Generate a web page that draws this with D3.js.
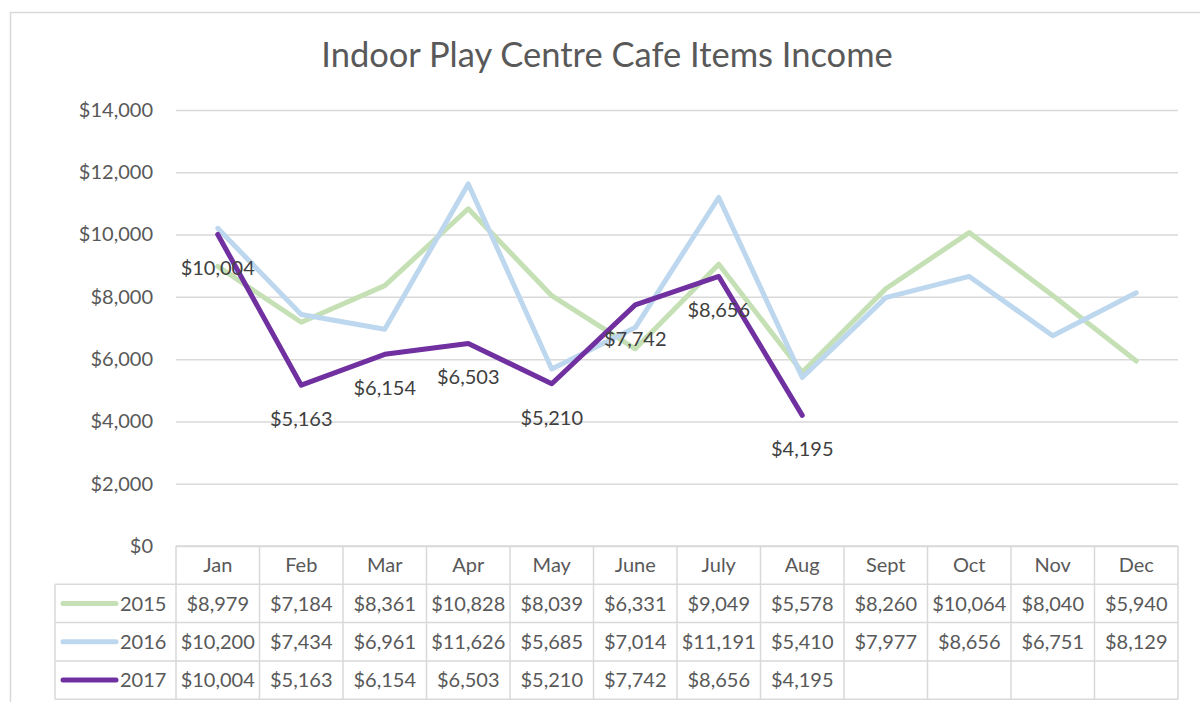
<!DOCTYPE html>
<html>
<head>
<meta charset="utf-8">
<script src="https://cdn.jsdelivr.net/npm/d3@7"></script>
<style>
  body { margin: 0; background: #fff; }
  text { font-family: "Lato", "Open Sans", sans-serif; fill: #595959; }
</style>
</head>
<body>
<div id="vis"></div>
<script>
const months = ["Jan", "Feb", "Mar", "Apr", "May", "June", "July", "Aug", "Sept", "Oct", "Nov", "Dec"];
const years = ["2015", "2016", "2017"];
const values2015 = [8979, 7184, 8361, 10828, 8039, 6331, 9049, 5578, 8260, 10064, 8040, 5940];
const values2016 = [10200, 7434, 6961, 11626, 5685, 7014, 11191, 5410, 7977, 8656, 6751, 8129];
const values2017 = [10004, 5163, 6154, 6503, 5210, 7742, 8656, 4195];
const yTicks = [0, 2000, 4000, 6000, 8000, 10000, 12000, 14000];

const seriesColors = ["#c5e0b4", "#bdd7ee", "#7030a0"];

const series = years.map((y, i) => ({
    year: y,
    color: seriesColors[i],
    values: [values2015, values2016, values2017][i]
}));

const W = 1200, H = 702;
const plot = { left: 176, right: 1178, top: 110, bottom: 546 };
const rowH = 38.3;
const money = d3.format("$,");
const fs = "20px";

const svg = d3.select("#vis")
    .append("svg")
    .attr("width", W)
    .attr("height", H);

// chart frame
svg.append("rect")
    .attr("x", 10.5)
    .attr("y", 12.5)
    .attr("width", 1200)
    .attr("height", 710)
    .attr("fill", "#fff")
    .attr("stroke", "#d9d9d9")
    .attr("stroke-width", 1.5);

const xScale = d3.scaleBand()
    .domain(months)
    .range([plot.left, plot.right]);

const yScale = d3.scaleLinear()
    .domain([0, 14000])
    .range([plot.bottom, plot.top]);

svg.append("text")
    .attr("x", 607)
    .attr("y", 67)
    .attr("text-anchor", "middle")
    .style("font-size", "34.5px")
    .text("Indoor Play Centre Cafe Items Income");

// gridlines + y labels
const yAxis = d3.axisLeft(yScale)
    .tickValues(yTicks)
    .tickSize(-(plot.right - plot.left))
    .tickPadding(23)
    .tickFormat(money);

const yAxisGroup = svg.append("g")
    .attr("transform", `translate(${plot.left},0)`)
    .call(yAxis);

yAxisGroup.select(".domain").remove();
yAxisGroup.selectAll(".tick line")
    .attr("stroke", "#d9d9d9")
    .attr("stroke-width", 1.5);
yAxisGroup.selectAll(".tick text")
    .style("font-family", "Lato, sans-serif")
    .style("font-size", fs)
    .attr("fill", "#595959");

// lines
const line = d3.line()
    .x((d, i) => xScale(months[i]) + xScale.bandwidth() / 2)
    .y(d => yScale(d));

svg.selectAll(".series")
    .data(series)
    .enter()
    .append("path")
    .attr("class", "series")
    .attr("d", d => line(d.values))
    .attr("fill", "none")
    .attr("stroke", d => d.color)
    .attr("stroke-width", 5)
    .attr("stroke-linecap", "round")
    .attr("stroke-linejoin", "round");

// data labels for 2017 (below points)
svg.selectAll(".dlabel")
    .data(values2017)
    .enter()
    .append("text")
    .attr("class", "dlabel")
    .attr("x", (d, i) => xScale(months[i]) + xScale.bandwidth() / 2)
    .attr("y", d => yScale(d) + 41)
    .attr("text-anchor", "middle")
    .style("font-size", fs)
    .style("fill", "#404040")
    .text(d => money(d));

// data table
const table = svg.append("g").attr("class", "table");
const gridColor = "#d9d9d9";
const tableLeft = 55;
const tableBottom = plot.bottom + rowH * 4;

// horizontal rules
table.append("line")
    .attr("x1", plot.left).attr("x2", plot.right)
    .attr("y1", plot.bottom).attr("y2", plot.bottom)
    .attr("stroke", gridColor).attr("stroke-width", 1.5);

d3.range(1, 5).forEach(r => {
    table.append("line")
        .attr("x1", tableLeft).attr("x2", plot.right)
        .attr("y1", plot.bottom + rowH * r).attr("y2", plot.bottom + rowH * r)
        .attr("stroke", gridColor).attr("stroke-width", 1.5);
});

// vertical rules
table.append("line")
    .attr("x1", tableLeft).attr("x2", tableLeft)
    .attr("y1", plot.bottom + rowH).attr("y2", tableBottom)
    .attr("stroke", gridColor).attr("stroke-width", 1.5);

table.selectAll(".vrule")
    .data(months.concat(["end"]))
    .enter()
    .append("line")
    .attr("class", "vrule")
    .attr("x1", (d, i) => plot.left + xScale.step() * i)
    .attr("x2", (d, i) => plot.left + xScale.step() * i)
    .attr("y1", plot.bottom)
    .attr("y2", tableBottom)
    .attr("stroke", gridColor)
    .attr("stroke-width", 1.5);

table.selectAll(".month")
    .data(months)
    .enter()
    .append("text")
    .attr("class", "month")
    .attr("x", d => xScale(d) + xScale.bandwidth() / 2)
    .attr("y", plot.bottom + rowH / 2)
    .attr("dy", "0.36em")
    .attr("text-anchor", "middle")
    .style("font-size", fs)
    .text(d => d);

series.forEach((s, r) => {
    const cy = plot.bottom + rowH * (r + 1) + rowH / 2;

    table.append("line")
        .attr("x1", 63).attr("x2", 116)
        .attr("y1", cy).attr("y2", cy)
        .attr("stroke", s.color)
        .attr("stroke-width", 5)
        .attr("stroke-linecap", "round");

    table.append("text")
        .attr("x", 120)
        .attr("y", cy)
        .attr("dy", "0.36em")
        .style("font-size", fs)
        .text(s.year);

    table.selectAll(null)
        .data(s.values)
        .enter()
        .append("text")
        .attr("x", (d, i) => xScale(months[i]) + xScale.bandwidth() / 2)
        .attr("y", cy)
        .attr("dy", "0.36em")
        .attr("text-anchor", "middle")
        .style("font-size", fs)
        .text(d => money(d));
});
</script>
</body>
</html>
